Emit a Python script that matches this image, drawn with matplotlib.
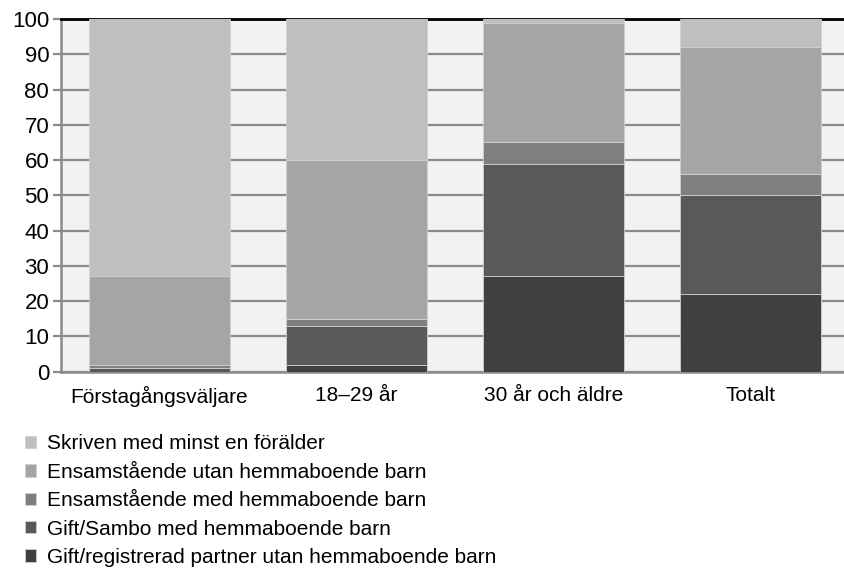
import numpy as np
import matplotlib.pyplot as plt

plt.rcParams['font.family'] = ['Liberation Sans', 'DejaVu Sans']

categories = ['Förstagångsväljare', '18–29 år', '30 år och äldre', 'Totalt']

# stacked bottom to top
series_names = [
    'Gift/registrerad partner utan hemmaboende barn',
    'Gift/Sambo med hemmaboende barn',
    'Ensamstående med hemmaboende barn',
    'Ensamstående utan hemmaboende barn',
    'Skriven med minst en förälder',
]
gift_reg = [0, 2, 27, 22]
gift_sambo = [1, 11, 32, 28]
ens_med = [1, 2, 6, 6]
ens_utan = [25, 45, 34, 36]
skriven = [73, 40, 1, 8]
series_values = [gift_reg, gift_sambo, ens_med, ens_utan, skriven]
colors = ['#404040', '#595959', '#7f7f7f', '#a5a5a5', '#bfbfbf']

yticks = [0, 10, 20, 30, 40, 50, 60, 70, 80, 90, 100]

fig = plt.figure(figsize=(8.45, 5.88), dpi=100)
ax = fig.add_axes([0.0722, 0.3679, 0.9325, 0.5998])
ax.set_facecolor('#f2f2f2')

x = np.arange(len(categories))
bottom = np.zeros(len(categories))
handles = []
for name, vals, c in zip(series_names, series_values, colors):
    vals = np.array(vals, dtype=float)
    h = ax.bar(x, vals, bottom=bottom, width=0.716, color=c,
               edgecolor='#d0d0d0', linewidth=0.6, label=name, zorder=3)
    handles.append(h)
    bottom += vals

ax.set_xlim(-0.5, len(categories) - 0.5)
ax.set_ylim(0, 100)
ax.set_yticks(yticks)
ax.set_xticks(x)
ax.set_xticklabels(categories)
ax.yaxis.grid(True, color='#8a8a8a', linewidth=1.6, zorder=0)
ax.set_axisbelow(True)

ax.tick_params(axis='y', length=6, width=1.6, color='#8a8a8a', pad=2.5, labelsize=16)
ax.tick_params(axis='x', length=0, pad=10, labelsize=15)

for s in ['left', 'bottom']:
    ax.spines[s].set_color('#8a8a8a')
    ax.spines[s].set_linewidth(1.8)
ax.spines['right'].set_visible(False)
ax.spines['top'].set_color('black')
ax.spines['top'].set_linewidth(2)

fig.legend(handles[::-1], series_names[::-1], loc='upper left',
           bbox_to_anchor=(0.0296, 0.2612), frameon=False, fontsize=15,
           handlelength=0.53, handleheight=0.53, handletextpad=0.51,
           labelspacing=0.45, borderpad=0, borderaxespad=0)

fig.savefig('out.png', dpi=100)
